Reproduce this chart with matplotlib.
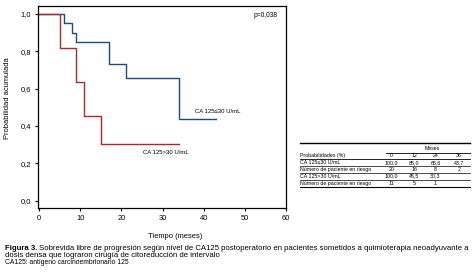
import matplotlib
matplotlib.use("Agg")
import matplotlib.pyplot as plt
from matplotlib.lines import Line2D

plt.rcParams['font.family'] = ['Liberation Sans', 'DejaVu Sans']

# Data
low_times = [0, 6, 8, 9, 17, 21, 34, 43]
low_surv = [1.0, 0.95, 0.90, 0.85, 0.73, 0.656, 0.437, 0.437]
high_times = [0, 5, 9, 11, 15, 34]
high_surv = [1.0, 0.82, 0.636, 0.455, 0.303, 0.303]
low_label = "CA 125≤30 U/mL"
high_label = "CA 125>30 U/mL"
p_text = "p=0,038"

months = ["0", "12", "24", "36"]
row_labels = ["CA 125≤30 U/mL", "Número de paciente en riesgo",
              "CA 125>30 U/mL", "Número de paciente en riesgo"]
probs_low = ["100,0", "85,0", "65,6", "43,7"]
risk_low = ["20", "16", "8", "2"]
probs_high = ["100,0", "45,5", "30,3", ""]
risk_high = ["11", "5", "1", ""]

xticks = [0, 10, 20, 30, 40, 50, 60]
yticks = [0.0, 0.2, 0.4, 0.6, 0.8, 1.0]

BLUE = "#1b4a7c"
RED = "#aa2a2a"
W, H = 475, 280

fig = plt.figure(figsize=(4.75, 2.8), dpi=100)
ax = fig.add_axes([38 / W, 1 - 208 / H, (286 - 38) / W, (208 - 6) / H])
ax.plot(low_times, low_surv, drawstyle="steps-post", color=BLUE, lw=1.0)
ax.plot(high_times, high_surv, drawstyle="steps-post", color=RED, lw=1.0)
ax.set_xlim(-0.3, 60)
ax.set_ylim(-0.040, 1.043)
ax.set_xticks(xticks)
ax.set_xticklabels([str(t) for t in xticks])
ax.set_yticks(yticks)
ax.set_yticklabels([f"{v:.1f}".replace(".", ",") for v in yticks])
ax.tick_params(labelsize=5.4, length=2.5, width=0.8, pad=2.5)
for s in ax.spines.values():
    s.set_linewidth(0.9)
ax.text(37.8, 0.475, low_label, fontsize=4.3, ha="left", va="center")
ax.text(25.3, 0.26, high_label, fontsize=4.3, ha="left", va="center")
ax.text(0.964, 0.955, p_text, fontsize=4.8, ha="right", va="center", transform=ax.transAxes)

def fy(y):
    return 1 - y / H

fig.text(8 / W, fy(98), "Probabilidad acumulada", fontsize=5.4, rotation=90,
         ha="center", va="center")
fig.text(175 / W, fy(236), "Tiempo (meses)", fontsize=5.4, ha="center", va="center")

# Table
def hline(x0, x1, y, lw=0.6):
    fig.add_artist(Line2D([x0 / W, x1 / W], [fy(y), fy(y)], color="black", lw=lw,
                          transform=fig.transFigure))

tx0, tx1 = 300, 470
hline(tx0, tx1, 143, lw=1.0)
fig.text(432 / W, fy(149), "Meses", fontsize=3.8, ha="center", va="center")
hline(386, tx1, 152.7, lw=0.6)
col_x = [391.5, 414, 435.5, 459]
fig.text(tx0 / W, fy(155.8), "Probabilidades (%)", fontsize=3.8, ha="left", va="center")
for cx, m in zip(col_x, months):
    fig.text(cx / W, fy(155.8), m, fontsize=3.8, ha="center", va="center")
hline(tx0, tx1, 159.2, lw=0.6)
row_y = [162.3, 169.2, 176.2, 183.6]
row_vals = [probs_low, risk_low, probs_high, risk_high]
line_y = [165.8, 172.8, 179.8, 187.3]
for ry, lab, vals, ly in zip(row_y, row_labels, row_vals, line_y):
    fig.text(tx0 / W, fy(ry), lab, fontsize=3.8, ha="left", va="center")
    for cx, v in zip(col_x, vals):
        fig.text(cx / W, fy(ry), v, fontsize=3.8, ha="center", va="center")
    hline(tx0, tx1, ly, lw=0.5 if ly < 187 else 0.8)

# Caption
CAP = 5.6
bold = fig.text(5 / W, fy(249), "Figura 3.", fontsize=CAP, ha="left", va="center",
                weight="bold")
fig.text(5 / W, fy(255.5), "dosis densa que lograron cirugía de citoreducción de intervalo",
         fontsize=CAP, ha="left", va="center")
fig.text(5 / W, fy(263), "CA125: antígeno carcinoembrionario 125",
         fontsize=4.9, ha="left", va="center")

fig.canvas.draw()
r = fig.canvas.get_renderer()
bb = bold.get_window_extent(r)
fig.text(bb.x1 / fig.bbox.width + 2 / W, fy(249),
         "Sobrevida libre de progresión según nivel de CA125 postoperatorio en pacientes sometidos a quimioterapia neoadyuvante a",
         fontsize=CAP, ha="left", va="center")

fig.savefig("out.png", dpi=100)
